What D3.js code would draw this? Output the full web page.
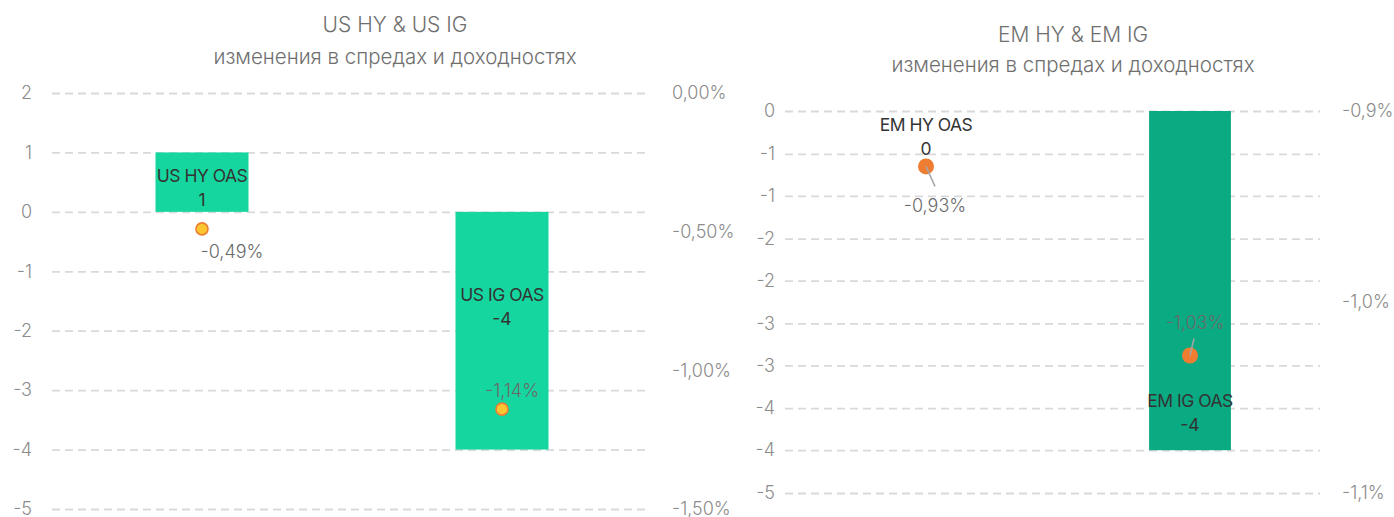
<!DOCTYPE html>
<html>
<head>
<meta charset="utf-8">
<script src="https://cdn.jsdelivr.net/npm/d3@7"></script>
<style>
  body { margin: 0; background: #fff; }
  svg { display: block; font-family: "Inter", "Noto Sans", sans-serif; }
</style>
</head>
<body>
<svg></svg>
<script>
// data
let usCategories = ["US HY OAS", "US IG OAS"];
let usSpreadChange = [1, -4];
let usYieldChange = [-0.49, -1.14];
let usLeftTicks = [2, 1, 0, -1, -2, -3, -4, -5];
let usRightTicks = [0, -0.5, -1, -1.5];

let emCategories = ["EM HY OAS", "EM IG OAS"];
let emSpreadChange = [0, -4.44];
let emYieldChange = [-0.929, -1.028];
let emLeftTicks = [0, -0.56, -1.11, -1.67, -2.22, -2.78, -3.33, -3.89, -4.44, -5];
let emRightTicks = [-0.9, -1.0, -1.1];

let titles = ["US HY & US IG", "EM HY & EM IG"];
let subtitle = "изменения в спредах и доходностях";

let svgWidth = 1394;
let svgHeight = 517;

let loc = d3.formatLocale({decimal: ",", thousands: " ", grouping: [3], currency: ["", ""], minus: "-"});

var svg = d3.select("svg")
    .attr("width", svgWidth)
    .attr("height", svgHeight);

function drawPanel(p) {
    let xScale = d3.scaleBand()
        .domain(p.categories)
        .range(p.xRange);
    let yLeft = d3.scaleLinear()
        .domain(p.leftDomain)
        .range(p.yRange);
    let yRight = d3.scaleLinear()
        .domain(p.rightDomain)
        .range(p.yRange);

    let g = svg.append("g");

    // titles
    g.append("text")
        .text(p.title)
        .attr("x", p.titleX)
        .attr("y", p.titleY)
        .attr("dy", "0.35em")
        .attr("text-anchor", "middle")
        .attr("font-size", "21px")
        .attr("font-weight", 300)
        .attr("fill", "#6f6f6f");
    g.append("text")
        .text(subtitle)
        .attr("x", p.titleX)
        .attr("y", p.titleY + p.subGap)
        .attr("dy", "0.35em")
        .attr("text-anchor", "middle")
        .attr("font-size", "20.5px")
        .attr("font-weight", 300)
        .attr("fill", "#6f6f6f");

    // grid
    let grid = g.append("g")
        .attr("transform", `translate(${p.gridX[0]}, 0)`)
        .call(d3.axisLeft(yLeft)
            .tickValues(p.leftTicks)
            .tickSize(-(p.gridX[1] - p.gridX[0]))
            .tickFormat(""));
    grid.select(".domain").remove();
    grid.selectAll("line")
        .attr("stroke", "#d9d9d9")
        .attr("stroke-width", 1.8)
        .attr("stroke-dasharray", "8,5");

    // left axis
    let leftAxis = g.append("g")
        .attr("transform", `translate(${p.gridX[0]}, 0)`)
        .call(d3.axisLeft(yLeft)
            .tickValues(p.leftTicks)
            .tickSize(0)
            .tickPadding(p.leftPad)
            .tickFormat(loc.format(".0f")));
    leftAxis.select(".domain").remove();
    leftAxis.selectAll("text")
        .attr("font-size", "18px")
        .attr("font-weight", 300)
        .attr("fill", "#8c8c8c")
        .attr("font-family", "Inter, sans-serif");

    // right axis
    let rightAxis = g.append("g")
        .attr("transform", `translate(${p.gridX[1]}, 0)`)
        .call(d3.axisRight(yRight)
            .tickValues(p.rightTicks)
            .tickSize(0)
            .tickPadding(p.rightPad)
            .tickFormat(d => loc.format(p.rightFmt)(d) + "%"));
    rightAxis.select(".domain").remove();
    rightAxis.selectAll("text")
        .attr("font-size", "18px")
        .attr("font-weight", 300)
        .attr("fill", "#8c8c8c")
        .attr("font-family", "Inter, sans-serif");

    let barW = xScale.bandwidth() * 0.31;
    let cx = d => xScale(d) + xScale.bandwidth() / 2;

    // bars
    g.selectAll(".bar")
        .data(p.categories)
        .enter()
        .append("rect")
            .attr("x", d => cx(d) - barW / 2)
            .attr("y", (d, i) => Math.min(yLeft(0), yLeft(p.spread[i])))
            .attr("width", barW)
            .attr("height", (d, i) => Math.abs(yLeft(p.spread[i]) - yLeft(0)))
            .attr("fill", p.barColor);

    // bar labels
    p.categories.forEach((d, i) => {
        let top = Math.min(yLeft(0), yLeft(p.spread[i])) + p.labelOffset[i];
        g.append("text")
            .text(d)
            .attr("x", cx(d))
            .attr("y", top)
            .attr("dy", "0.35em")
            .attr("text-anchor", "middle")
            .attr("font-size", "17.5px")
            .attr("letter-spacing", "-0.5px")
            .attr("fill", "#333");
        g.append("text")
            .text(loc.format(".0f")(p.spread[i]))
            .attr("x", cx(d))
            .attr("y", top + 24)
            .attr("dy", "0.35em")
            .attr("text-anchor", "middle")
            .attr("font-size", "17.5px")
            .attr("fill", "#333");
    });

    // yield points
    p.categories.forEach((d, i) => {
        let x = cx(d), y = yRight(p.yields[i]);
        let off = p.yieldOffset[i];
        g.append("circle")
            .attr("cx", x)
            .attr("cy", y)
            .attr("r", p.dotR)
            .attr("fill", p.dotFill)
            .attr("stroke", p.dotStroke)
            .attr("stroke-width", p.dotStroke == "none" ? 0 : 1.6);
        if (p.leader) {
            g.append("line")
                .attr("x1", x)
                .attr("y1", y)
                .attr("x2", x + off[2])
                .attr("y2", y + off[3])
                .attr("stroke", "#a6a6a6")
                .attr("stroke-width", 1.5);
        }
        g.append("text")
            .text(loc.format(".2f")(p.yields[i]) + "%")
            .attr("x", x + off[0])
            .attr("y", y + off[1])
            .attr("dy", "0.35em")
            .attr("text-anchor", "middle")
            .attr("font-size", "18px")
            .attr("font-weight", 300)
            .attr("fill", "#6a6a6a");
    });
}

drawPanel({
    title: titles[0], titleX: 395, titleY: 25, subGap: 32,
    categories: usCategories, spread: usSpreadChange, yields: usYieldChange,
    leftTicks: usLeftTicks, rightTicks: usRightTicks,
    leftDomain: [-5, 2], rightDomain: [-1.5, 0], yRange: [509, 93],
    xRange: [52, 652], gridX: [52, 647], leftPad: 20, rightPad: 25, rightFmt: ".2f",
    barColor: "#16d69f", dotR: 6, dotFill: "#fcc630", dotStroke: "#ee7d31",
    labelOffset: [23, 83], yieldOffset: [[30, 23], [10, -18]], leader: false
});

drawPanel({
    title: titles[1], titleX: 1073, titleY: 35, subGap: 30,
    categories: emCategories, spread: emSpreadChange, yields: emYieldChange,
    leftTicks: emLeftTicks, rightTicks: emRightTicks,
    leftDomain: [-5, 0], rightDomain: [-1.1, -0.9], yRange: [493, 111],
    xRange: [794, 1322], gridX: [785, 1320], leftPad: 10, rightPad: 22, rightFmt: ".1f",
    barColor: "#0aaa82", dotR: 8, dotFill: "#ee7d31", dotStroke: "none",
    labelOffset: [14, 290], yieldOffset: [[9, 39, 9, 20], [5, -33, 4, -17]], leader: true
});
</script>
</body>
</html>
